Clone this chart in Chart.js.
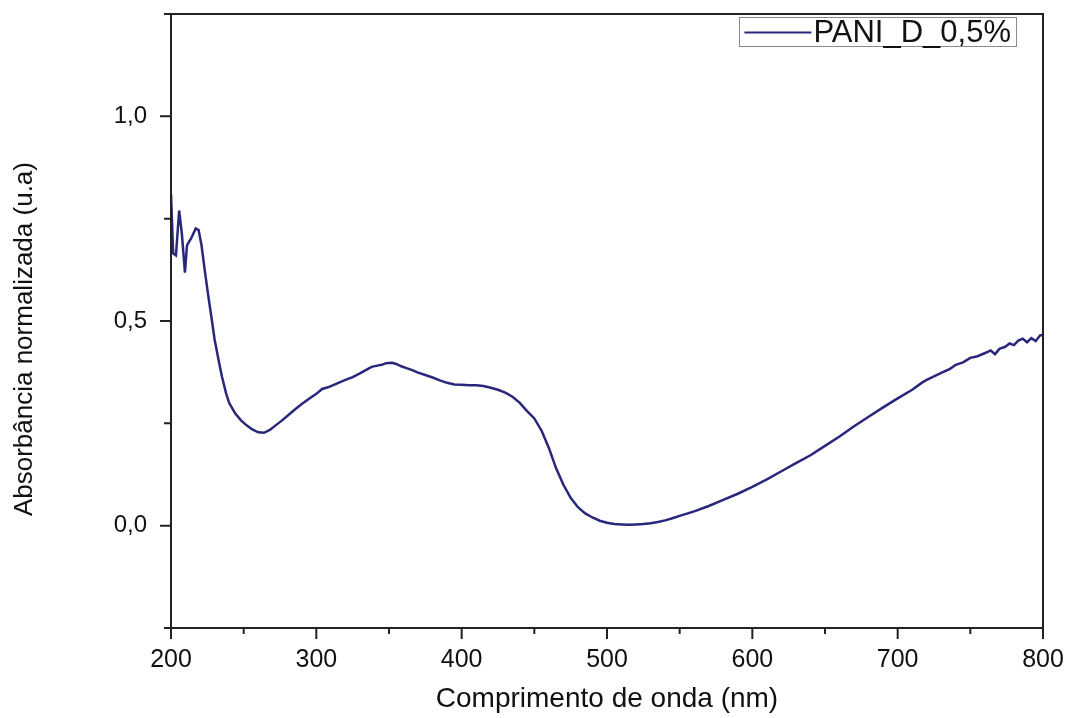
<!DOCTYPE html>
<html>
<head>
<meta charset="utf-8">
<title>PANI_D_0,5%</title>
<script src="https://cdn.jsdelivr.net/npm/chart.js@4/dist/chart.umd.min.js"></script>
<style>
    body { margin: 0; background: #fff; }
    canvas { display: block; }
</style>
</head>
<body>
<canvas id="myChart" width="1067" height="718"></canvas>
<script>
// UV-Vis spectrum, normalised absorbance
const wavelength = [
    200, 201.5, 203.4, 205.6, 207.5, 209.6, 211, 214, 217, 219, 221, 223, 225.5, 228, 230, 233, 235, 238,
    240, 244, 248, 252, 256, 260, 264, 268, 272, 276, 280, 285, 290, 295, 300, 304, 308, 312, 316, 320,
    325, 330, 334, 338, 342, 345, 348, 352, 355, 358, 362, 366, 370, 375, 380, 385, 390, 395, 400, 405,
    410, 415, 420, 425, 430, 435, 440, 445, 450, 455, 460, 465, 470, 475, 480, 485, 490, 495, 500, 505,
    510, 515, 520, 525, 530, 535, 540, 545, 550, 560, 570, 580, 590, 600, 610, 620, 630, 640, 650, 660,
    670, 680, 690, 700, 710, 717, 720, 730, 736, 740, 745, 750, 755, 761, 764, 767, 770, 774, 777, 780,
    783, 786, 789, 792, 795, 798, 800
];
const absorbance = [
    0.81, 0.665, 0.66, 0.77, 0.712, 0.618, 0.685, 0.703, 0.726, 0.722, 0.685, 0.63, 0.565, 0.505, 0.455, 0.40, 0.365, 0.322,
    0.30, 0.275, 0.258, 0.245, 0.235, 0.228, 0.227, 0.234, 0.245, 0.256, 0.268, 0.283, 0.297, 0.31, 0.322, 0.334, 0.338, 0.344, 0.35, 0.356,
    0.363, 0.372, 0.38, 0.388, 0.391, 0.393, 0.397, 0.398, 0.395, 0.39, 0.385, 0.38, 0.374, 0.368, 0.362, 0.355, 0.349, 0.345, 0.344, 0.343,
    0.343, 0.341, 0.337, 0.332, 0.325, 0.315, 0.30, 0.28, 0.262, 0.232, 0.19, 0.14, 0.10, 0.068, 0.045, 0.03, 0.02, 0.012, 0.007, 0.004,
    0.003, 0.002, 0.003, 0.004, 0.006, 0.009, 0.013, 0.018, 0.024, 0.035, 0.048, 0.063, 0.078, 0.095, 0.113, 0.133, 0.153, 0.172, 0.195, 0.218,
    0.243, 0.266, 0.289, 0.311, 0.332, 0.35, 0.356, 0.373, 0.383, 0.393, 0.399, 0.41, 0.414, 0.423, 0.428, 0.419, 0.432, 0.437, 0.445, 0.441,
    0.452, 0.457, 0.448, 0.458, 0.451, 0.465, 0.466
];

const xTicks = [200, 300, 400, 500, 600, 700, 800];
const xMinor = [250, 350, 450, 550, 650, 750];
const yTicks = [0, 0.5, 1.0];
const yMinor = [-0.25, 0.25, 0.75, 1.25];

const seriesLabel = 'PANI_D_0,5%';
const lineColor = '#28277c';
const fontFamily = '"Liberation Sans", Arial, sans-serif';

let points = wavelength.map((w, i) => ({ x: w, y: absorbance[i] }));

// white background, axis frame, ticks and boxed legend
const framePlugin = {
    id: 'frame',
    beforeDraw(chart) {
        const ctx = chart.ctx;
        ctx.save();
        ctx.fillStyle = '#fff';
        ctx.fillRect(0, 0, chart.width, chart.height);
        ctx.restore();
    },
    afterDraw(chart) {
        const ctx = chart.ctx;
        const area = chart.chartArea;
        const xs = chart.scales.x;
        const ys = chart.scales.y;

        ctx.save();
        ctx.strokeStyle = '#222';
        ctx.lineWidth = 2;
        ctx.strokeRect(area.left, area.top, area.right - area.left, area.bottom - area.top);

        ctx.beginPath();
        for (let v of xTicks) {
            let px = xs.getPixelForValue(v);
            ctx.moveTo(px, area.bottom);
            ctx.lineTo(px, area.bottom + 11);
        }
        for (let v of xMinor) {
            let px = xs.getPixelForValue(v);
            ctx.moveTo(px, area.bottom);
            ctx.lineTo(px, area.bottom + 6);
        }
        for (let v of yTicks) {
            let py = ys.getPixelForValue(v);
            ctx.moveTo(area.left, py);
            ctx.lineTo(area.left - 11, py);
        }
        for (let v of yMinor) {
            let py = ys.getPixelForValue(v);
            ctx.moveTo(area.left, py);
            ctx.lineTo(area.left - 7, py);
        }
        ctx.stroke();

        // legend
        ctx.font = '31px ' + fontFamily;
        let textW = ctx.measureText(seriesLabel).width;
        let boxW = 5 + 67 + 2 + textW + 5;
        let boxH = 29;
        let boxX = area.right - 27 - boxW;
        let boxY = area.top + 3;
        ctx.strokeStyle = '#8a8a8a';
        ctx.lineWidth = 1;
        ctx.strokeRect(Math.round(boxX) + 0.5, Math.round(boxY) + 0.5, Math.round(boxW), boxH);

        let midY = boxY + boxH / 2 + 1;
        ctx.strokeStyle = lineColor;
        ctx.lineWidth = 2;
        ctx.beginPath();
        ctx.moveTo(boxX + 5, midY);
        ctx.lineTo(boxX + 72, midY);
        ctx.stroke();

        ctx.fillStyle = '#111';
        ctx.textBaseline = 'middle';
        ctx.textAlign = 'left';
        ctx.fillText(seriesLabel, boxX + 74, midY + 1);
        ctx.restore();
    }
};

// keep the plot box fixed: no extra room for overhanging tick labels
function noPadding(scale) {
    scale.paddingTop = 0;
    scale.paddingBottom = 0;
    scale.paddingLeft = 0;
    scale.paddingRight = 0;
}

new Chart('myChart', {
    type: 'line',
    data: {
        datasets: [{
            label: seriesLabel,
            data: points,
            borderColor: lineColor,
            borderWidth: 2.5,
            pointRadius: 0,
            tension: 0,
            fill: false
        }]
    },
    options: {
        responsive: false,
        animation: false,
        events: [],
        layout: {
            padding: { left: 0, right: 24, top: 14, bottom: 0 }
        },
        plugins: {
            legend: { display: false },
            tooltip: { enabled: false }
        },
        scales: {
            x: {
                type: 'linear',
                min: 200,
                max: 800,
                grid: { display: false, drawTicks: false },
                border: { display: false },
                afterBuildTicks: (scale) => {
                    scale.ticks = xTicks.map(v => ({ value: v }));
                },
                afterFit: (scale) => {
                    scale.height = 90;
                    noPadding(scale);
                },
                ticks: {
                    padding: 17,
                    color: '#111',
                    font: { family: fontFamily, size: 25 },
                    maxRotation: 0,
                    callback: (v) => String(v)
                },
                title: {
                    display: true,
                    text: 'Comprimento de onda (nm)',
                    color: '#111',
                    font: { family: fontFamily, size: 28 },
                    padding: { top: 0, bottom: 2 }
                }
            },
            y: {
                type: 'linear',
                min: -0.25,
                max: 1.25,
                grid: { display: false, drawTicks: false },
                border: { display: false },
                afterBuildTicks: (scale) => {
                    scale.ticks = yTicks.map(v => ({ value: v }));
                },
                afterFit: (scale) => {
                    scale.width = 171;
                    noPadding(scale);
                },
                ticks: {
                    padding: 24,
                    color: '#111',
                    font: { family: fontFamily, size: 24 },
                    callback: (v) => v.toFixed(1).replace('.', ',')
                },
                title: {
                    display: true,
                    text: 'Absorbância normalizada (u.a)     ',
                    color: '#111',
                    font: { family: fontFamily, size: 26 },
                    padding: { top: 9, bottom: 0 }
                }
            }
        }
    },
    plugins: [framePlugin]
});
</script>
</body>
</html>
